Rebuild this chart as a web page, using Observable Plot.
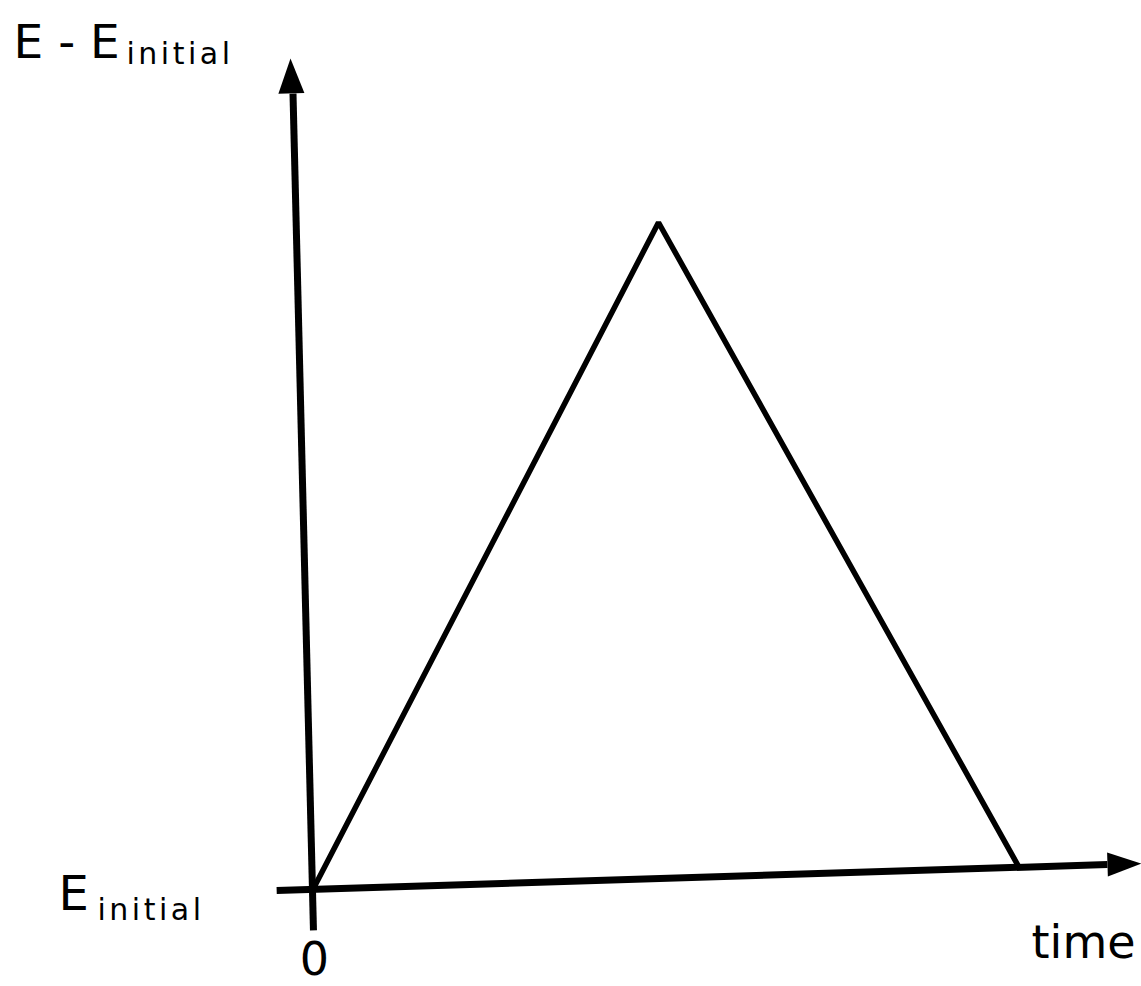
<!DOCTYPE html>
<html>
<head>
<meta charset="utf-8">
<script src="https://cdn.jsdelivr.net/npm/d3@7"></script>
<script src="https://cdn.jsdelivr.net/npm/@observablehq/plot@0.6"></script>
<style>
  html, body { margin: 0; padding: 0; background: #fff; }
  #chart svg { display: block; }
</style>
</head>
<body>
<div id="chart"></div>
<script>
// ---- data (time in units of rise time, E in units of peak height) ----
const waveTime = [0, 1, 2.047];
const waveE    = [0, 1, 0.03];

// axis lines as drawn (slightly skewed hand drawing)
const xAxisTime = [-0.110, 2.305];
const xAxisE    = [-0.006, 0.033];
const xArrowTime = [2.404];
const xArrowE    = [0.0346];

const yAxisTime = [-0.003, -0.0625];
const yAxisE    = [-0.066, 1.194];
const yArrowTime = [-0.0698];
const yArrowE    = [1.247];

const xTicks = [0];
const xTickLabels = ["0"];
const yTicks = [0];
const yTickMain = ["E"];
const yTickSub = ["initial"];
const xLabel = "time";
const yLabelMain = "E - E";
const yLabelSub = "initial";

const wave = waveTime.map((t, i) => ({t, e: waveE[i]}));
const xAxis = xAxisTime.map((t, i) => ({t, e: xAxisE[i]}));
const yAxis = yAxisTime.map((t, i) => ({t, e: yAxisE[i]}));
const xArrow = xArrowTime.map((t, i) => ({t, e: xArrowE[i]}));
const yArrow = yArrowTime.map((t, i) => ({t, e: yArrowE[i]}));

// arrowhead symbol: tip at origin, pointing right
function arrowHead(len, half) {
  return { draw(ctx) { ctx.moveTo(0, 0); ctx.lineTo(-len, -half); ctx.lineTo(-len, half); ctx.closePath(); } };
}

const font = "DejaVu Sans, sans-serif";

const chart = Plot.plot({
  width: 1141,
  height: 986,
  margin: 0,
  x: { domain: [-0.9128, 2.4041], axis: null },
  y: { domain: [-0.1506, 1.3343], axis: null },
  style: { background: "#fff", fontFamily: font },
  marks: [
    Plot.line(xAxis, { x: "t", y: "e", stroke: "#000", strokeWidth: 7, strokeLinecap: "butt" }),
    Plot.line(yAxis, { x: "t", y: "e", stroke: "#000", strokeWidth: 7, strokeLinecap: "butt" }),
    Plot.dot(xArrow, { x: "t", y: "e", symbol: arrowHead(34, 12), fill: "#000", stroke: "none", rotate: -1.8 }),
    Plot.dot(yArrow, { x: "t", y: "e", symbol: arrowHead(35, 13), fill: "#000", stroke: "none", rotate: -91.5 }),
    Plot.line(wave, { x: "t", y: "e", stroke: "#000", strokeWidth: 5.5, strokeLinejoin: "miter" }),
    // x tick label
    Plot.text(xTicks, { x: d => d, frameAnchor: "bottom", lineAnchor: "bottom", dy: -12, text: (d, i) => xTickLabels[i], fontSize: 46, fill: "#000" }),
    // y tick label E_initial
    Plot.text(yTicks, { y: d => d, frameAnchor: "left", lineAnchor: "bottom", textAnchor: "start", dx: 58, dy: 24, text: (d, i) => yTickMain[i], fontSize: 48, fill: "#000" }),
    Plot.text(yTicks, { y: d => d, frameAnchor: "left", lineAnchor: "bottom", textAnchor: "start", dx: 97, dy: 34, text: (d, i) => yTickSub[i], fontSize: 30, fill: "#000" }),
    // x axis label
    Plot.text([xLabel], { frameAnchor: "bottom-right", lineAnchor: "bottom", textAnchor: "end", dx: -6, dy: -29, text: d => d, fontSize: 46, fill: "#000" }),
    // y axis label
    Plot.text([yLabelMain], { frameAnchor: "top-left", lineAnchor: "bottom", textAnchor: "start", dx: 13, dy: 57, text: d => d, fontSize: 47, fill: "#000" }),
    Plot.text([yLabelSub], { frameAnchor: "top-left", lineAnchor: "bottom", textAnchor: "start", dx: 126, dy: 63, text: d => d, fontSize: 30, fill: "#000" })
  ]
});

d3.select(chart).selectAll("text").filter(function() { return this.textContent === "initial"; })
  .attr("letter-spacing", "3.5px");

document.getElementById("chart").appendChild(chart);
</script>
</body>
</html>
